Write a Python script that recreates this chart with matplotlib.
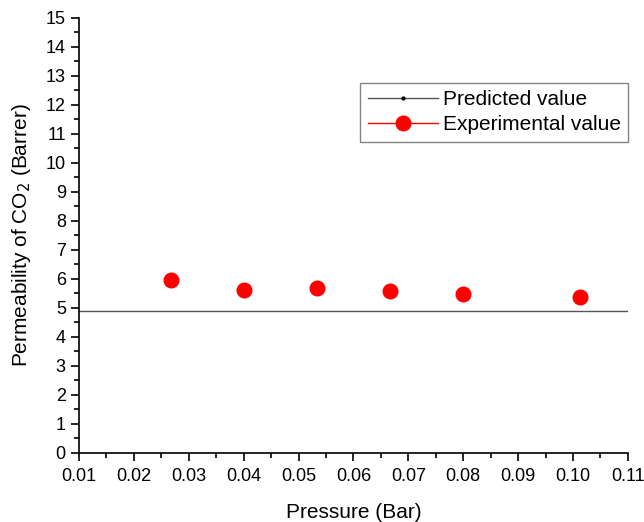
import matplotlib
matplotlib.use("Agg")
import matplotlib.pyplot as plt
from matplotlib.ticker import MultipleLocator, FormatStrFormatter
from matplotlib.lines import Line2D

plt.rcParams['font.family'] = ['Liberation Sans', 'DejaVu Sans']

# data
pressure = [0.0267, 0.04, 0.0533, 0.0667, 0.08, 0.1013]
permeability = [5.95, 5.62, 5.68, 5.58, 5.47, 5.36]
predicted_x = [0.01, 0.11]
predicted_y = [4.9, 4.9]

fig = plt.figure(figsize=(6.44, 5.22), dpi=100)
ax = fig.add_axes([0.1227, 0.1328, 0.8523, 0.8333])

ax.plot(predicted_x, predicted_y, color='#555555', lw=1.0, label='Predicted value')
ax.plot(pressure, permeability, color='red', lw=0, marker='o', markersize=10.5,
        label='Experimental value')

ax.set_xlim(0.01, 0.11)
ax.set_ylim(0, 15)
ax.xaxis.set_major_locator(MultipleLocator(0.01))
ax.xaxis.set_minor_locator(MultipleLocator(0.005))
ax.xaxis.set_major_formatter(FormatStrFormatter('%.2f'))
ax.yaxis.set_major_locator(MultipleLocator(1))
ax.yaxis.set_minor_locator(MultipleLocator(0.5))

for s in ['top', 'right']:
    ax.spines[s].set_visible(False)
for s in ['left', 'bottom']:
    ax.spines[s].set_linewidth(1.2)
ax.tick_params(which='major', direction='out', length=6, width=1.2, labelsize=13)
ax.tick_params(which='minor', direction='out', length=3.5, width=1.2)
ax.tick_params(axis='x', pad=5)

ax.set_xlabel('Pressure (Bar)', fontsize=15, labelpad=13)
ax.set_ylabel('Permeability of CO$_2$ (Barrer)', fontsize=15, labelpad=9)

# legend handles with line through the marker like the original
h1 = Line2D([], [], color='#555555', lw=1.0, marker='.', markersize=4,
            markerfacecolor='black', markeredgecolor='black')
h2 = Line2D([], [], color='red', lw=1.0, marker='o', markersize=10.5)
leg = ax.legend([h1, h2], ['Predicted value', 'Experimental value'],
                loc='upper right', bbox_to_anchor=(1.0, 0.85), fontsize=15,
                frameon=True, fancybox=False, handlelength=3.4, handletextpad=0.2,
                borderpad=0.35, labelspacing=0.3, borderaxespad=0.0)
leg.get_frame().set_edgecolor('#666666')
leg.get_frame().set_linewidth(1.0)

fig.savefig('out.png', dpi=100)
